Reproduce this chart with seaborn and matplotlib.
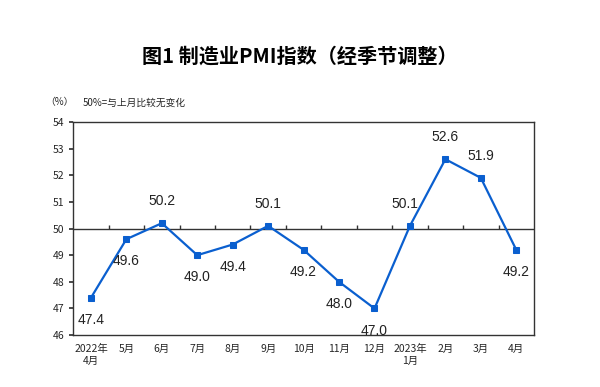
import matplotlib
matplotlib.use("Agg")
import matplotlib.pyplot as plt
import seaborn as sns
import pandas as pd

months = ["2022年\n4月", "5月", "6月", "7月", "8月", "9月", "10月", "11月", "12月",
          "2023年\n1月", "2月", "3月", "4月"]
pmi = [47.4, 49.6, 50.2, 49.0, 49.4, 50.1, 49.2, 48.0, 47.0, 50.1, 52.6, 51.9, 49.2]
# 标签位置: 1 在上方, -1 在下方
label_side = [-1, -1, 1, -1, -1, 1, -1, -1, -1, 1, 1, 1, -1]

sns.set_theme(style="white")
plt.rcParams["font.family"] = ["Noto Sans CJK SC", "DejaVu Sans"]
plt.rcParams["axes.unicode_minus"] = False

df = pd.DataFrame({"idx": range(len(months)), "pmi": pmi})

fig = plt.figure(figsize=(6, 3.87), dpi=100)
ax = fig.add_axes([0.122, 0.134, 0.768, 0.551])

line_color = "#0a5fcf"
sns.lineplot(data=df, x="idx", y="pmi", ax=ax, color=line_color, linewidth=1.6,
             marker="s", markersize=4, markeredgecolor=line_color)

ax.axhline(50, color="#333333", linewidth=1, zorder=1)
# 50 线上的分隔刻度
bounds = [i + 0.5 for i in range(len(months) - 1)]
ax.vlines(bounds, 50, 50.12, color="#333333", linewidth=1)

ax.set_xlim(-0.5, len(months) - 0.5)
ax.set_ylim(46, 54)
ax.set_yticks(range(46, 55))
ax.set_xticks(range(len(months)))
ax.set_xticklabels(months, fontsize=7.5, linespacing=1.3)
ax.tick_params(axis="y", labelsize=7.5, length=3, direction="out", left=True, color="#333333")
ax.tick_params(axis="x", length=0, pad=6)
ax.set_xlabel("")
ax.set_ylabel("")
for s in ax.spines.values():
    s.set_color("#333333")
    s.set_linewidth(1)

for i, (v, side) in enumerate(zip(pmi, label_side)):
    dx = 0
    if i == 9:
        dx = -0.15
    ax.annotate(f"{v:.1f}", (i + dx, v), xytext=(0, 11 * side), textcoords="offset points",
                ha="center", va="bottom" if side > 0 else "top", fontsize=10,
                family=["Liberation Sans", "DejaVu Sans"], color="#222222")

fig.text(0.5, 0.855, "图1 制造业PMI指数（经季节调整）", ha="center", va="center",
         fontsize=14.5, fontweight="bold", color="black")
fig.text(0.075, 0.735, "（%）", ha="left", va="center", fontsize=7)
fig.text(0.137, 0.735, "50%=与上月比较无变化", ha="left", va="center", fontsize=7)

fig.savefig("out.png", dpi=100)
